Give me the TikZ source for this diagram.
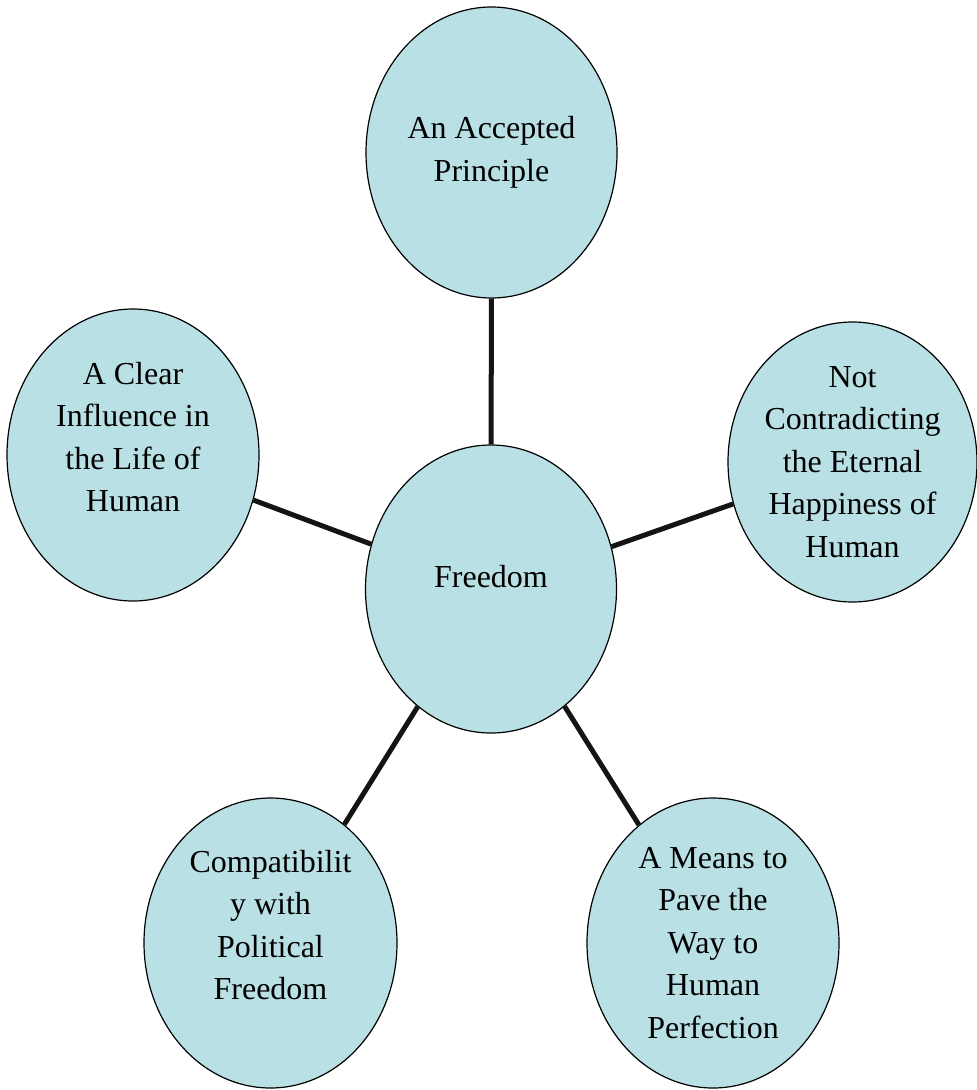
\documentclass[tikz,border=0pt]{standalone}
\usepackage{fontspec}
\setmainfont{Liberation Serif}
\usetikzlibrary{shapes}
\definecolor{paleblue}{HTML}{B9E0E4}
\definecolor{linkblack}{HTML}{141414}
\tikzset{
  bubbletext/.style={align=center, font=\fontsize{32}{42.5}\selectfont},
  bubble/.style={ellipse, draw=black, line width=1.2pt, fill=paleblue,
    minimum width=251pt, minimum height=290pt, inner sep=0pt, bubbletext},
  link/.style={line width=5pt, color=linkblack}
}

\begin{document}
\begin{tikzpicture}[x=1pt,y=-1pt]

  \useasboundingbox (0,0) rectangle (977,1090);

  % centre, text sits a little above the middle
  \node[bubble, minimum height=288pt,
    label={[bubbletext, yshift=12pt]center:Freedom}] (free) at (491,589) {};

  % outer ring
  \node[bubble, minimum height=291pt] (accept) at (491.5,152.5)
    {An Accepted\\Principle};
  \node[bubble, minimum width=249pt, minimum height=280pt] (happy) at (852.5,462)
    {Not\\Contradicting\\the Eternal\\Happiness of\\Human};
  \node[bubble, minimum width=252pt, minimum height=292pt,
    label={[bubbletext, yshift=18pt]center:A Clear\\Influence in\\the Life of\\Human}]
    (life) at (133,455) {};
  \node[bubble, minimum width=253pt,
    label={[bubbletext, yshift=18pt]center:Compatibilit\\y with\\Political\\Freedom}]
    (compat) at (270.5,943) {};
  \node[bubble, minimum width=252pt] (perfect) at (713,943)
    {A Means to\\Pave the\\Way to\\Human\\Perfection};

  \draw[link] (free) -- (accept);
  \draw[link] (free) -- (happy);
  \draw[link] (free) -- (perfect);
  \draw[link] (free) -- (compat);
  \draw[link] (free) -- (life);

\end{tikzpicture}
\end{document}
